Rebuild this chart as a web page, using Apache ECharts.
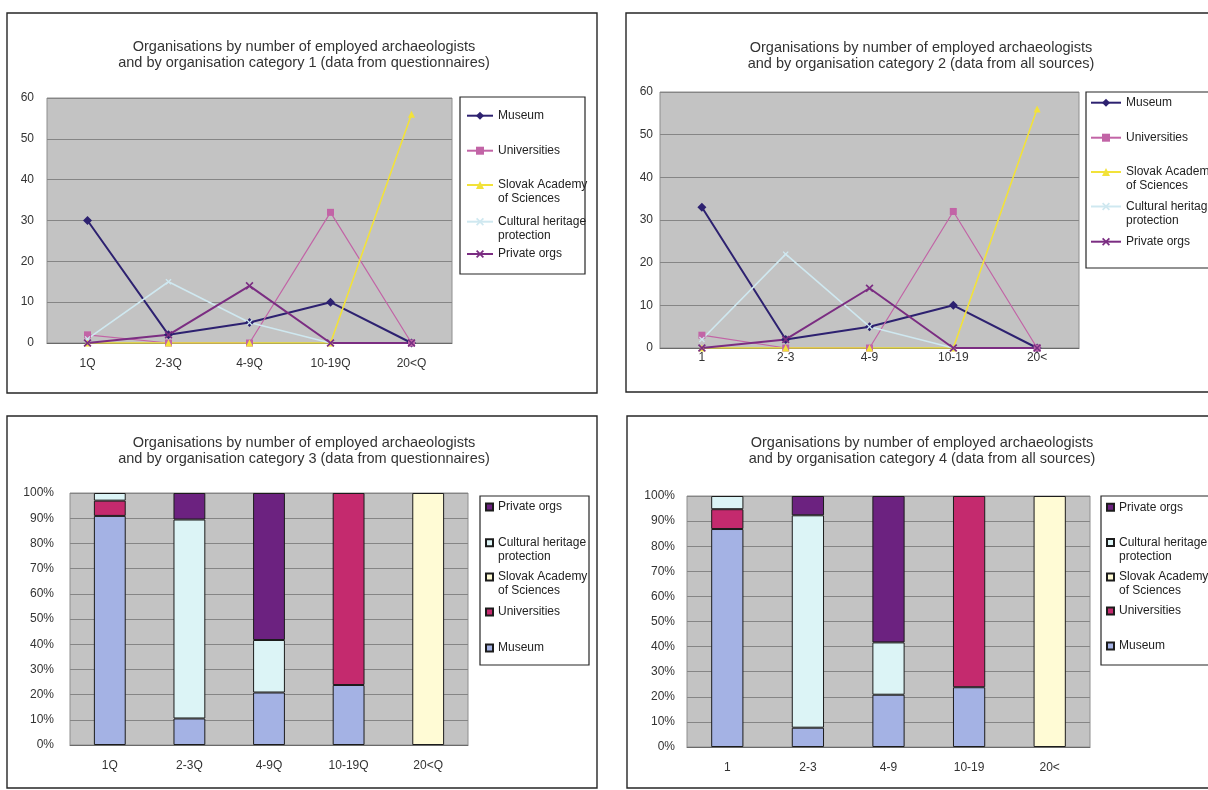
<!DOCTYPE html>
<html>
<head>
<meta charset="utf-8">
<script src="https://cdn.jsdelivr.net/npm/echarts@6.0.0/dist/echarts.min.js"></script>
<style>
html,body{margin:0;padding:0;background:#ffffff;}
#chart{width:1208px;height:790px;}
</style>
</head>
<body>
<div id="chart"></div>
<script>
// ---------------- data ----------------
const categoriesQ = ['1Q', '2-3Q', '4-9Q', '10-19Q', '20<Q'];
const categoriesAll = ['1', '2-3', '4-9', '10-19', '20<'];
const seriesNames = ['Museum', 'Universities', 'Slovak Academy of Sciences', 'Cultural heritage protection', 'Private orgs'];

// counts, data from questionnaires
const museumQ       = [30, 2, 5, 10, 0];
const universitiesQ = [2, 0, 0, 32, 0];
const slovakQ       = [0, 0, 0, 0, 56];
const heritageQ     = [1, 15, 5, 0, 0];
const privateQ      = [0, 2, 14, 0, 0];

// counts, data from all sources
const museumAll       = [33, 2, 5, 10, 0];
const universitiesAll = [3, 0, 0, 32, 0];
const slovakAll       = [0, 0, 0, 0, 56];
const heritageAll     = [2, 22, 5, 0, 0];
const privateAll      = [0, 2, 14, 0, 0];

// axis tick ranges
const countAxis = [0, 60, 10];
const shareAxis = [0, 100, 10];

const titles = [
  'Organisations by number of employed archaeologists\nand by organisation category 1 (data from questionnaires)',
  'Organisations by number of employed archaeologists\nand by organisation category 2 (data from all sources)',
  'Organisations by number of employed archaeologists\nand by organisation category 3 (data from questionnaires)',
  'Organisations by number of employed archaeologists\nand by organisation category 4 (data from all sources)'
];

// ---------------- styles ----------------
const FONT = "'Liberation Sans', Arial, sans-serif";
const xMark = 'path://M0,1.5 L1.5,0 L5,3.5 L8.5,0 L10,1.5 L6.5,5 L10,8.5 L8.5,10 L5,6.5 L1.5,10 L0,8.5 L3.5,5 Z';
const lineLook = [
  {color: '#2d2170', symbol: 'diamond', size: 9, width: 2},
  {color: '#c264a6', symbol: 'rect', size: 7, width: 1.2},
  {color: '#f2e23a', symbol: 'triangle', size: 7, width: 1.6},
  {color: '#cfe8f0', symbol: xMark, size: 6, width: 1.6},
  {color: '#7b2d82', symbol: xMark, size: 8, width: 2}
];
const barColors = ['#a4b2e4', '#c42a6e', '#fffbd5', '#dcf4f6', '#6c2280'];
const barSuffix = ' (share)';
// leading blank line keeps the legend icon level with the first text line
const legendLabel = {
  'Slovak Academy of Sciences': '\nSlovak Academy\nof Sciences',
  'Cultural heritage protection': '\nCultural heritage\nprotection'
};

// legend centres = vertical centre of the first text line of each entry (in seriesNames order)
const panels = [
  {kind: 'line', cats: categoriesQ,
   data: [museumQ, universitiesQ, slovakQ, heritageQ, privateQ],
   grid: {left: 47, top: 98, width: 405, height: 245},
   title: [304, 39], xMargin: 15, yMargin: 13,
   box: [460, 97, 125, 177], legendLeft: 466, itemWidth: 26,
   legendCenters: [115.7, 150.7, 185, 221.7, 254]},
  {kind: 'line', cats: categoriesAll,
   data: [museumAll, universitiesAll, slovakAll, heritageAll, privateAll],
   grid: {left: 660, top: 92, width: 419, height: 256},
   title: [921, 40], xMargin: 4, yMargin: 7,
   box: [1086, 92, 150, 176], legendLeft: 1090, itemWidth: 30,
   legendCenters: [102.7, 137.7, 172, 206.5, 241.7]},
  {kind: 'bar', cats: categoriesQ,
   data: [museumQ, universitiesQ, slovakQ, heritageQ, privateQ],
   grid: {left: 70, top: 493, width: 398, height: 252},
   title: [304, 435], xMargin: 15, yMargin: 16,
   box: [480, 496, 109, 169], legendLeft: 485, itemWidth: 7,
   legendCenters: [648, 612, 577, 542.7, 507]},
  {kind: 'bar', cats: categoriesAll,
   data: [museumAll, universitiesAll, slovakAll, heritageAll, privateAll],
   grid: {left: 687, top: 496, width: 403, height: 251},
   title: [922, 435], xMargin: 15, yMargin: 12,
   box: [1101, 496, 140, 169], legendLeft: 1106, itemWidth: 7,
   legendCenters: [646, 611, 577, 542.5, 507.3]}
];

// ---------------- build ----------------
const option = {
  animation: false,
  backgroundColor: '#ffffff',
  textStyle: {fontFamily: FONT},
  title: [], grid: [], xAxis: [], yAxis: [], series: [], legend: [],
  graphic: {elements: []}
};

// panel frames
const frames = [[7, 13, 590, 380], [626, 13, 600, 379], [7, 416, 590, 372], [627, 416, 600, 372]];
frames.forEach(f => option.graphic.elements.push({
  type: 'rect', shape: {x: f[0], y: f[1], width: f[2], height: f[3]},
  style: {fill: 'none', stroke: '#262626', lineWidth: 1.4}, silent: true, z: 100
}));

panels.forEach((p, i) => {
  option.title.push({
    text: titles[i], left: p.title[0], top: p.title[1], textAlign: 'center', padding: 0,
    textStyle: {fontSize: 14.5, lineHeight: 16, fontWeight: 'normal', color: '#333333', fontFamily: FONT}
  });
  option.grid.push(Object.assign({
    show: true, backgroundColor: '#c3c3c3', borderColor: '#8e8e8e', borderWidth: 1,
    containLabel: false, outerBoundsMode: 'none'
  }, p.grid));
  const isBar = p.kind === 'bar';
  const ax = isBar ? shareAxis : countAxis;
  option.xAxis.push({
    type: 'category', gridIndex: i, data: p.cats, boundaryGap: true,
    axisLine: {show: true, lineStyle: {color: '#6a6a6a', width: 1}},
    axisTick: {show: false}, splitLine: {show: false},
    axisLabel: {margin: p.xMargin, fontSize: 12, color: '#333333', fontFamily: FONT, interval: 0}
  });
  option.yAxis.push({
    type: 'value', gridIndex: i, min: ax[0], max: ax[1], interval: ax[2],
    axisLine: {show: false}, axisTick: {show: false},
    axisLabel: {margin: p.yMargin, fontSize: 12, color: '#333333', fontFamily: FONT,
                formatter: isBar ? '{value}%' : '{value}'},
    splitLine: {show: true, lineStyle: {color: '#858585', width: 1}}
  });

  const totals = p.cats.map((c, k) => p.data.reduce((s, arr) => s + arr[k], 0));
  p.data.forEach((arr, s) => {
    if (isBar) {
      option.series.push({
        type: 'bar', name: seriesNames[s] + barSuffix, xAxisIndex: i, yAxisIndex: i,
        stack: 'share' + i, barWidth: '40%',
        data: arr.map((v, k) => v > 0 ? v / totals[k] * 100 : null),
        itemStyle: {color: barColors[s], borderColor: '#1c1c1c', borderWidth: 1},
        emphasis: {disabled: true}
      });
    } else {
      const L = lineLook[s];
      option.series.push({
        type: 'line', name: seriesNames[s], xAxisIndex: i, yAxisIndex: i,
        data: arr, symbol: L.symbol, symbolSize: L.size, showSymbol: true,
        lineStyle: {color: L.color, width: L.width}, itemStyle: {color: L.color},
        emphasis: {disabled: true}
      });
    }
  });

  // legend box
  option.graphic.elements.push({
    type: 'rect', shape: {x: p.box[0], y: p.box[1], width: p.box[2], height: p.box[3]},
    style: {fill: 'none', stroke: '#262626', lineWidth: 1.2}, silent: true, z: 100
  });
  // one legend per entry for exact placement
  seriesNames.forEach((n, s) => {
    const key = isBar ? n + barSuffix : n;
    const twoLine = !!legendLabel[n];
    option.legend.push({
      orient: 'vertical', left: p.legendLeft,
      top: p.legendCenters[s] - (twoLine ? 21 : 7),
      padding: 0, itemGap: 0,
      itemWidth: p.itemWidth, itemHeight: isBar ? 7 : 10,
      icon: isBar ? 'rect' : undefined,
      selectedMode: false,
      data: [key],
      formatter: name => {
        const base = name.replace(barSuffix, '');
        return legendLabel[base] || base;
      },
      textStyle: {fontSize: 12, lineHeight: 14, color: '#222222', fontFamily: FONT}
    });
  });
});

const chart = echarts.init(document.getElementById('chart'), null, {renderer: 'canvas'});
chart.setOption(option);
</script>
</body>
</html>
